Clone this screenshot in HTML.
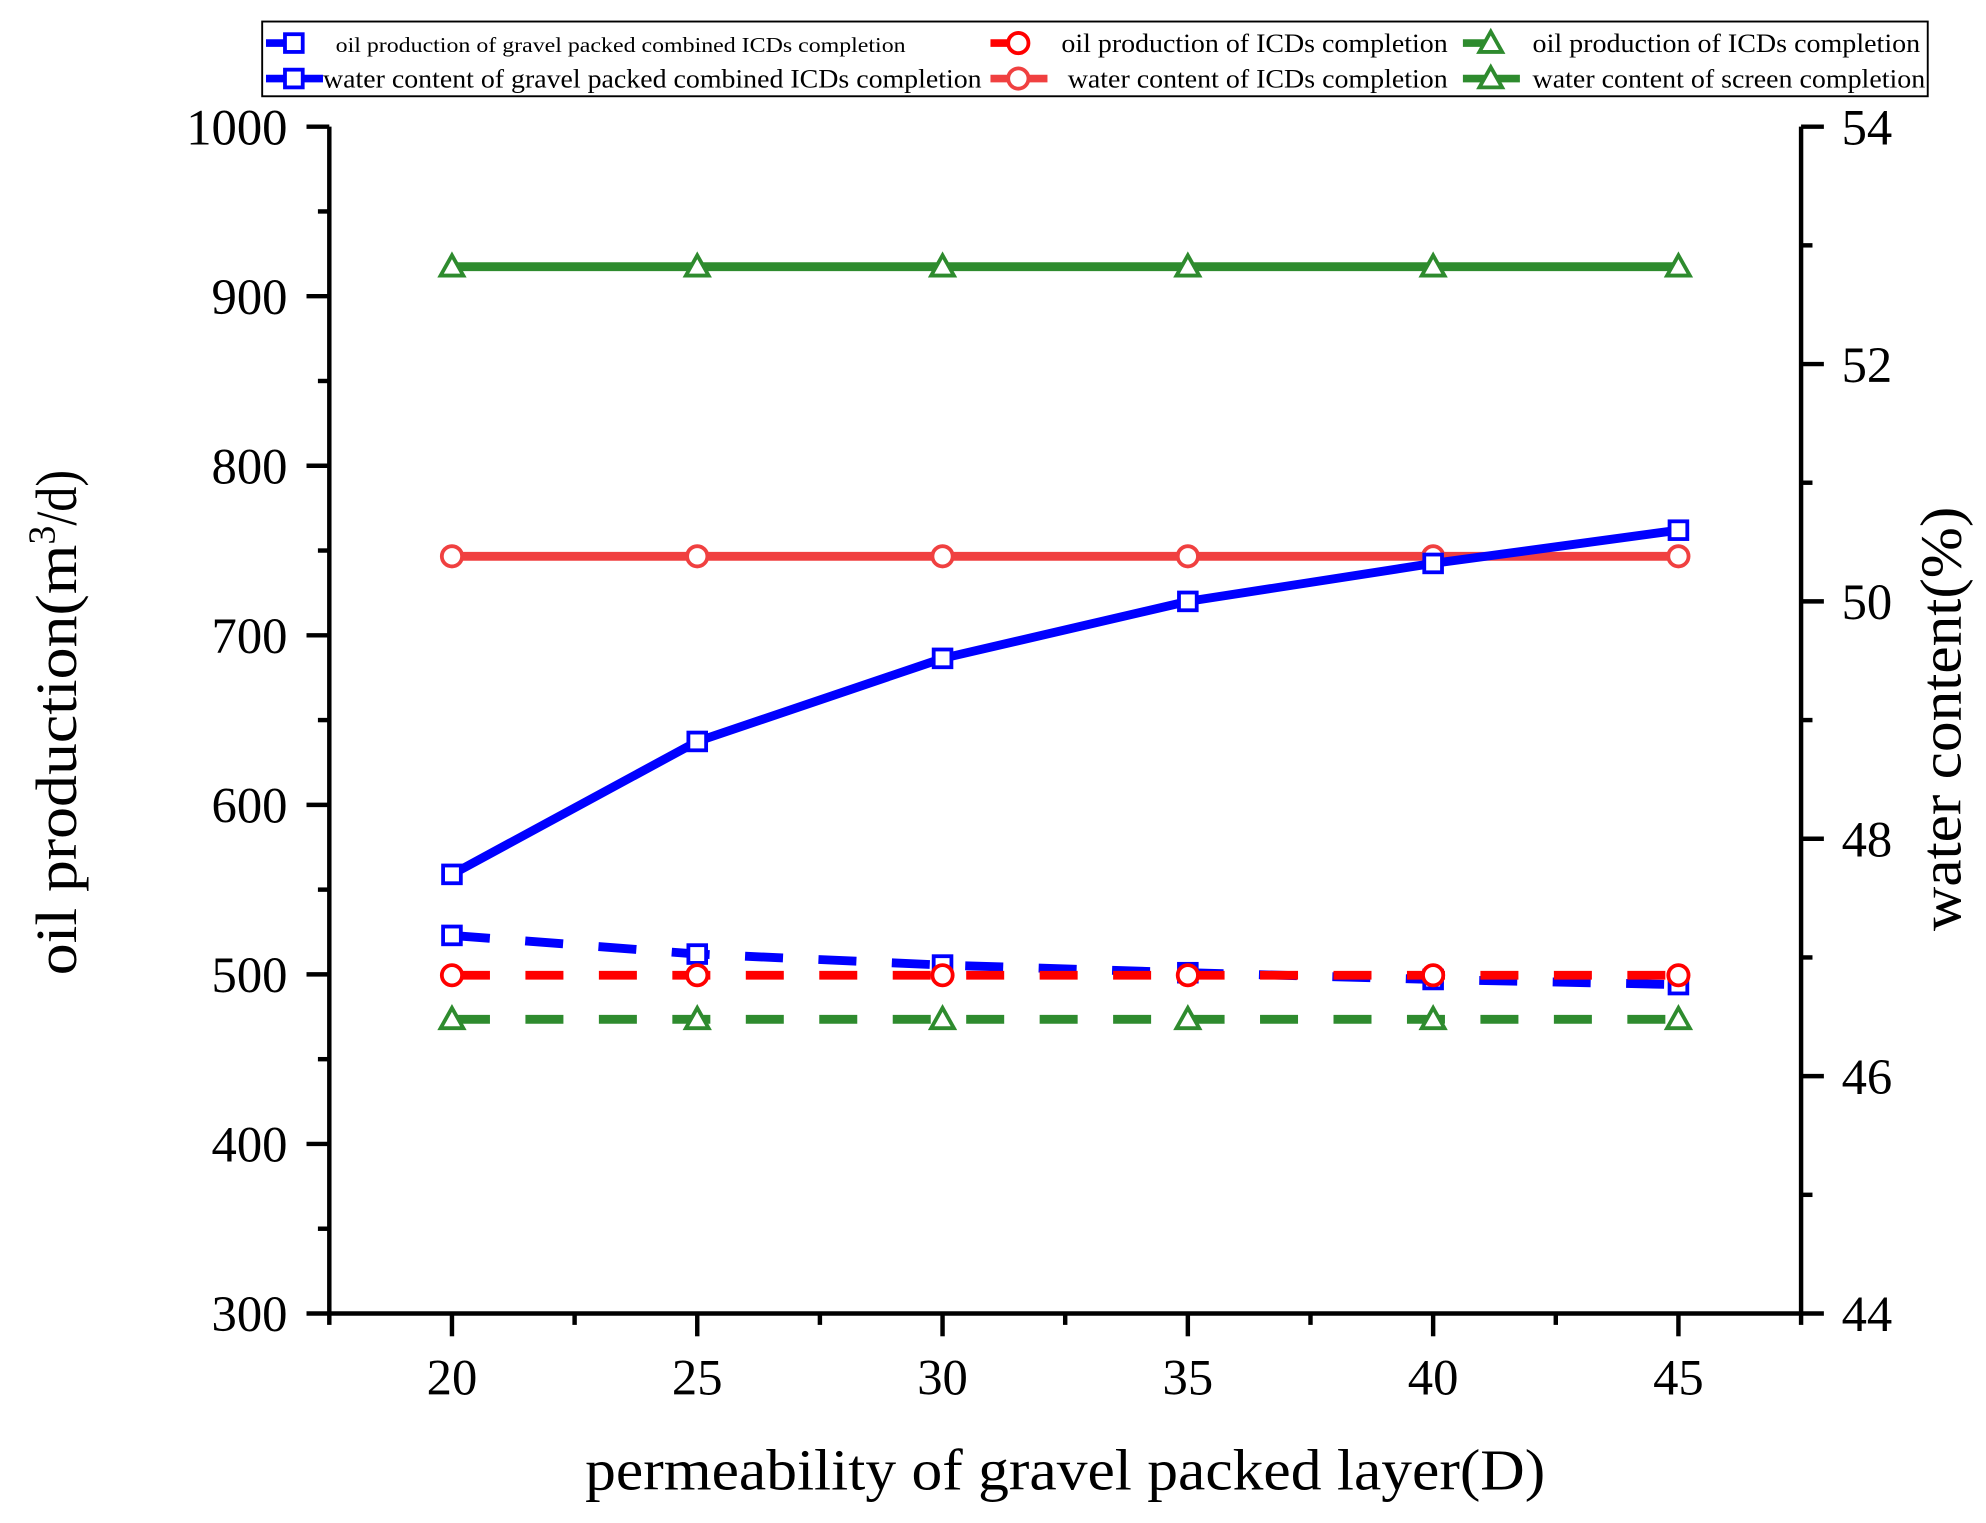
<!DOCTYPE html>
<html><head><meta charset="utf-8"><style>
html,body{margin:0;padding:0;background:#fff;}
svg{display:block;}
text{font-family:"Liberation Serif",serif;fill:#000;}
</style></head><body>
<svg id="chart" width="1986" height="1523" viewBox="0 0 1568 1202.4" preserveAspectRatio="none" xmlns="http://www.w3.org/2000/svg">
<g id="plot"></g>
</svg>
<script>
const xCats = [20, 25, 30, 35, 40, 45];
const blueOil = [523, 512, 505.5, 501, 497, 494];
const redOil = [499.5, 499.5, 499.5, 499.5, 499.5, 499.5];
const greenOil = [473.5, 473.5, 473.5, 473.5, 473.5, 473.5];
const blueWater = [47.7, 48.82, 49.52, 50.0, 50.32, 50.6];
const redWater = [50.38, 50.38, 50.38, 50.38, 50.38, 50.38];
const greenWater = [52.82, 52.82, 52.82, 52.82, 52.82, 52.82];
const leftTicks = [300, 400, 500, 600, 700, 800, 900, 1000];
const rightTicks = [44, 46, 48, 50, 52, 54];

const NS = "http://www.w3.org/2000/svg";
const g = document.getElementById('plot');
const L = 260, R = 1422, T = 100, B = 1037;
const xs = v => L + (v - 17.5) / 30 * (R - L);
const yl = v => B - (v - 300) / 700 * (B - T);
const yr = v => B - (v - 44) / 10 * (B - T);
function el(tag, attrs, parent) {
  const e = document.createElementNS(NS, tag);
  for (const k in attrs) e.setAttribute(k, attrs[k]);
  (parent || g).appendChild(e);
  return e;
}
function txt(s, attrs, parent) { const t = el('text', attrs, parent); t.textContent = s; return t; }

let a = el('path', {d:`M${L},${T}V${B}H${R}V${T}`, fill:'none', stroke:'#000', 'stroke-width':3.5});


for (let v = 300; v <= 1000; v += 50) {
  const len = v % 100 === 0 ? 18 : 9;
  const t = el('line', {x1:L-len, x2:L, y1:yl(v), y2:yl(v), stroke:'#000', 'stroke-width':3.5});
  
  
}
leftTicks.forEach(v => {
  const t = txt(v, {x:L-33, y:yl(v)+14, 'text-anchor':'end', 'font-size':40});
  
  
});
for (let v = 44; v <= 54; v += 1) {
  const len = v % 2 === 0 ? 18 : 9;
  const t = el('line', {x1:R, x2:R+len, y1:yr(v), y2:yr(v), stroke:'#000', 'stroke-width':3.5});
  
  
}
rightTicks.forEach(v => {
  const t = txt(v, {x:R+32, y:yr(v)+14, 'font-size':40});
  
  
});
for (let v = 17.5; v <= 47.5; v += 2.5) {
  const len = (v % 5 === 0) ? 18 : 9;
  const t = el('line', {x1:xs(v), x2:xs(v), y1:B, y2:B+len, stroke:'#000', 'stroke-width':3.5});
  
  
}
xCats.forEach(v => {
  const t = txt(v, {x:xs(v), y:B+64, 'text-anchor':'middle', 'font-size':40});
  
  
});
let tt = txt('permeability of gravel packed layer(D)', {x:462, y:1176, 'font-size':46, textLength:758, lengthAdjust:'spacingAndGlyphs'});


tt = el('text', {transform:`translate(60,770) rotate(-90)`, 'font-size':46});
tt.innerHTML = '<tspan textLength="340" lengthAdjust="spacingAndGlyphs">oil production(m</tspan><tspan dy="-17" font-size="30">3</tspan><tspan dy="17" textLength="44" lengthAdjust="spacingAndGlyphs">/d)</tspan>';


tt = txt('water content(%)', {transform:`translate(1548,735) rotate(-90)`, 'font-size':46, textLength:335, lengthAdjust:'spacingAndGlyphs'});



function marker(type, x, y, color, parent) {
  if (type === 'sq') return el('rect', {x:x-7, y:y-7, width:14, height:14, fill:'#fff', stroke:color, 'stroke-width':3}, parent);
  if (type === 'ci') return el('circle', {cx:x, cy:y, r:8, fill:'#fff', stroke:color, 'stroke-width':3}, parent);
  return el('path', {d:`M${x},${y-9}L${x+9},${y+7}L${x-9},${y+7}Z`, fill:'#fff', stroke:color, 'stroke-width':3}, parent);
}
function series(vals, yf, color, dash, type, name) {
  const grp = el('g', {});
  
  
  const d = vals.map((v,i) => (i?'L':'M') + xs(xCats[i]) + ',' + yf(v)).join('');
  el('path', {d, fill:'none', stroke:color, 'stroke-width':7, 'stroke-dasharray':dash||'none'}, grp);
  vals.forEach((v,i) => {
    const m = marker(type, xs(xCats[i]), yf(v), color, grp);
    
    
  });
}
const dash = '30,28';
series(greenWater, yr, '#2e8b2e', null, 'tr', 'green-water-series');
series(redWater, yr, '#f04040', null, 'ci', 'red-water-series');
series(blueWater, yr, '#0000ff', null, 'sq', 'blue-water-series');
series(greenOil, yl, '#2e8b2e', dash, 'tr', 'green-oil-series');
series(blueOil, yl, '#0000ff', dash, 'sq', 'blue-oil-series');
series(redOil, yl, '#ff0000', dash, 'ci', 'red-oil-series');

const lg = el('g', {});


el('rect', {x:207, y:17, width:1315, height:59, fill:'#fff', stroke:'#000', 'stroke-width':1.5}, lg);
const entries = [
  [210, 34, '#0000ff', 'sq', true, 'oil production of gravel packed combined ICDs completion', 265, 17, 450],
  [210, 62, '#0000ff', 'sq', false, 'water content of gravel packed combined ICDs completion', 255, 21, 520],
  [782, 34, '#ff0000', 'ci', true, 'oil production of ICDs completion', 838, 21, 305],
  [782, 62, '#f04040', 'ci', false, 'water content of ICDs completion', 843, 21, 300],
  [1155, 34, '#2e8b2e', 'tr', true, 'oil production of ICDs completion', 1210, 21, 306],
  [1155, 62, '#2e8b2e', 'tr', false, 'water content of screen completion', 1210, 21, 310]
];
entries.forEach(e => {
  const [x, y, c, t, dashed, label, tx, fs, w] = e;
  const eg = el('g', {}, lg);
  
  
  el('line', {x1:x, x2:dashed ? x+22 : x+45, y1:y, y2:y, stroke:c, 'stroke-width':6}, eg);
  marker(t, x+22, y, c, eg);
  txt(label, {x:tx, y:y+7, 'font-size':fs, textLength:w, lengthAdjust:'spacingAndGlyphs'}, eg);
});
</script>
</body></html>
